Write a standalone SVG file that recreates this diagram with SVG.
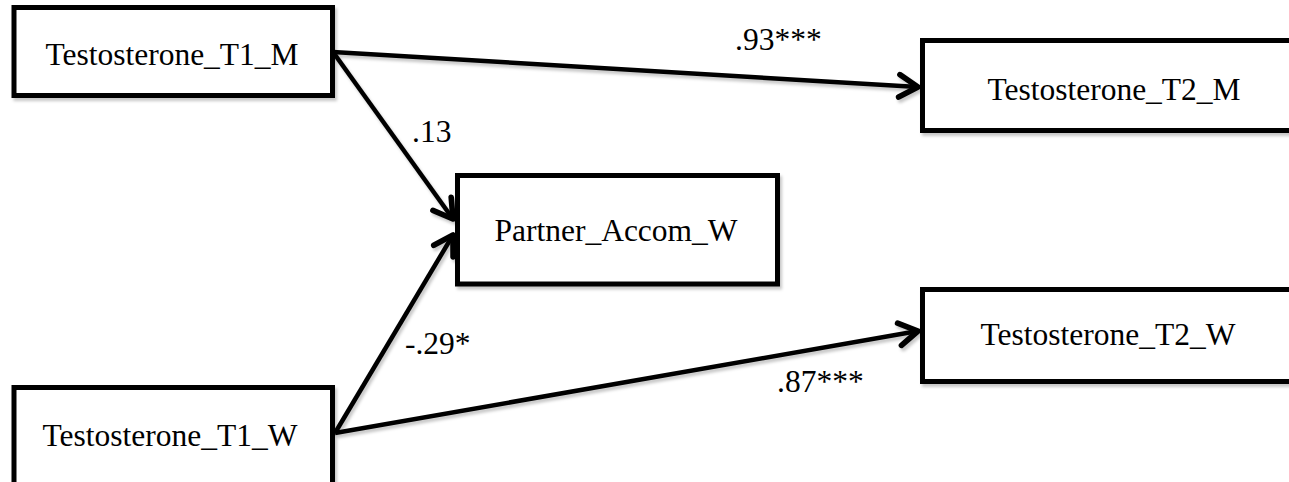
<svg xmlns="http://www.w3.org/2000/svg" width="1289" height="482" viewBox="0 0 1289 482">
<style>
.box{fill:#fff;stroke:#000;stroke-width:5}
text{font-family:'Liberation Serif','Times New Roman',serif;font-size:31.5px;fill:#000}
.node{text-anchor:middle}
.edge{stroke:#000;stroke-width:4.5;fill:none;marker-end:url(#arr)}
.sh{filter:url(#shadow)}
</style>
<defs>
<filter id="shadow" x="-10%" y="-10%" width="120%" height="130%">
<feDropShadow dx="2" dy="3" stdDeviation="1.5" flood-color="#000" flood-opacity="0.22"/>
</filter>
<marker id="arr" markerUnits="userSpaceOnUse" markerWidth="30" markerHeight="30" viewBox="-20 -12 24 24" refX="0" refY="0" orient="auto">
<path d="M-15,-9 L0,0 L-15,9" fill="none" stroke="#000" stroke-width="4.5" stroke-linecap="round" stroke-linejoin="round"/>
</marker>
</defs>
<g id="connectors" class="sh">
<line class="edge" x1="333" y1="52" x2="918" y2="87"/>
<line class="edge" x1="333" y1="52" x2="453" y2="219"/>
<line class="edge" x1="335" y1="433" x2="453" y2="235"/>
<line class="edge" x1="335" y1="433" x2="918" y2="331"/>
</g>
<g id="n_t1m">
<rect class="box sh" x="14" y="7.5" width="318.5" height="88"/>
<text class="node" x="172" y="65">Testosterone_T1_M</text>
</g>
<g id="n_t2m">
<rect class="box sh" x="922.5" y="40.5" width="380" height="90"/>
<text class="node" x="1114" y="100">Testosterone_T2_M</text>
</g>
<g id="n_pa">
<rect class="box sh" x="457.5" y="175.5" width="320" height="108.5"/>
<text class="node" x="616" y="241">Partner_Accom_W</text>
</g>
<g id="n_t1w">
<rect class="box sh" x="14" y="387.5" width="318.5" height="110"/>
<text class="node" x="170" y="446">Testosterone_T1_W</text>
</g>
<g id="n_t2w">
<rect class="box sh" x="922.5" y="289.5" width="380" height="92"/>
<text class="node" x="1108" y="345">Testosterone_T2_W</text>
</g>
<g id="labels">
<text x="735" y="50">.93***</text>
<text x="412" y="142">.13</text>
<text x="405" y="354">-.29*</text>
<text x="777" y="392">.87***</text>
</g>
</svg>
